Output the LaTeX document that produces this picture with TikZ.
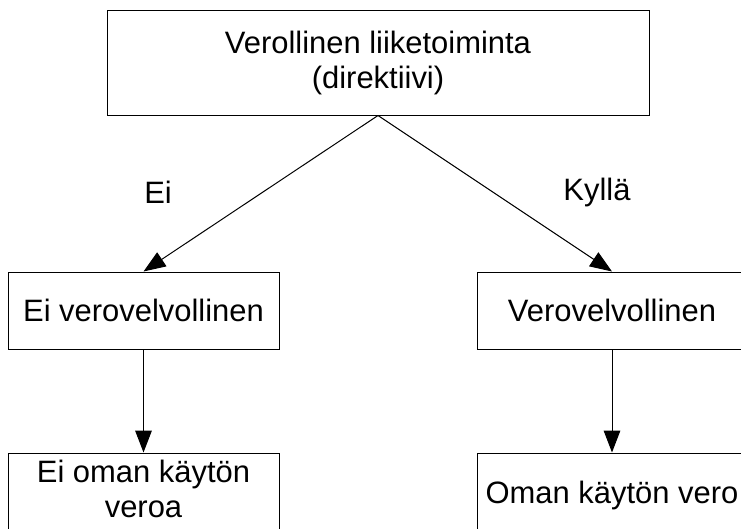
\documentclass[tikz,border=0pt]{standalone}
\usepackage{fontspec}
\setmainfont{Liberation Sans}
\usetikzlibrary{arrows.meta}

\tikzset{every picture/.style={line width=0.75pt}}
\tikzset{
  box/.style={draw, inner sep=0pt, align=center, font=\fontsize{23.2}{26}\selectfont},
  flow/.style={-{Triangle[length=16.5pt,width=12.5pt]}},
  lbl/.style={inner sep=0.75pt, font=\fontsize{23.2}{27}\selectfont}
}

\begin{document}
\begin{tikzpicture}[x=0.75pt,y=0.75pt,yscale=-1,xscale=1]
\useasboundingbox (0,0) rectangle (741,528);
\clip (0,0) rectangle (741,528);

%Boxes
\node [box, minimum width=406.5pt, minimum height=78pt] (liike) at (378,63) {Verollinen liiketoiminta\\(direktiivi)};
\node [box, minimum width=203.25pt, minimum height=57.75pt] (eivelv) at (143.5,310.5) {Ei verovelvollinen};
\node [box, minimum width=202.5pt, minimum height=57.75pt] (velv) at (612,310.5) {Verovelvollinen};
\node [box, minimum width=203.25pt, minimum height=63pt, text depth=9pt] (eivero) at (143.5,495) {Ei oman käytön\\veroa};
\node [box, minimum width=202.5pt, minimum height=63pt] (vero) at (612,495) {Oman käytön vero};

%Connectors
\draw [flow] (liike.south) -- (eivelv.north);
\draw [flow] (liike.south) -- (velv.north);
\draw [flow] (eivelv.south) -- (eivero.north);
\draw [flow] (velv.south) -- (vero.north);

% Text Node
\node [lbl] (ei) at (158,192) {Ei};
% Text Node
\node [lbl] (kylla) at (597,192) {Kyllä};

\end{tikzpicture}
\end{document}
